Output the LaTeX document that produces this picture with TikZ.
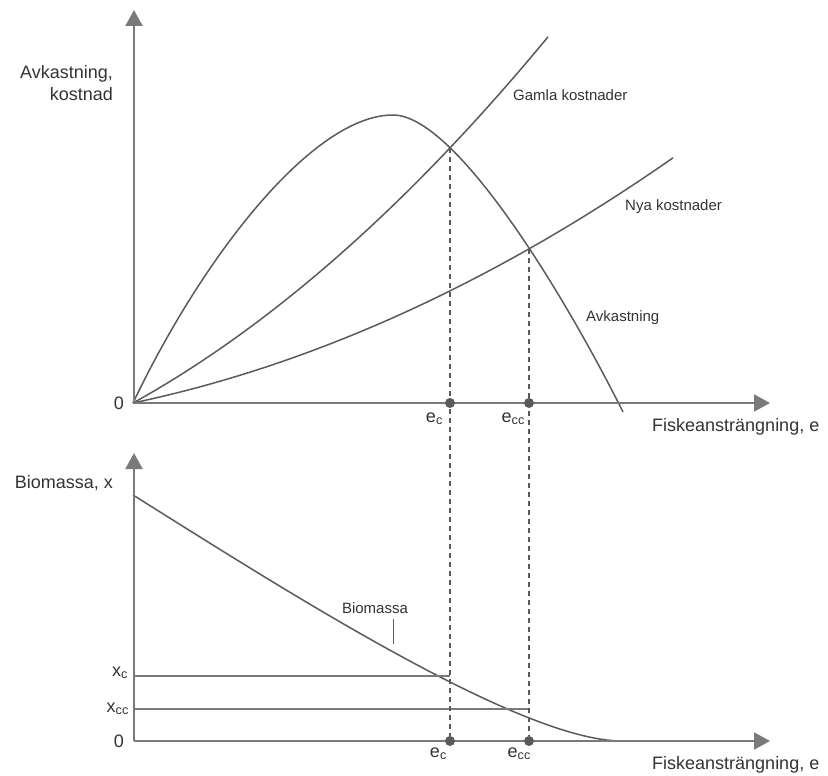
\documentclass[tikz,border=0pt]{standalone}
\usepackage{fontspec}
\setmainfont{Liberation Sans}
\usepackage{xcolor}
\usepackage{tikz}
\usetikzlibrary{
    positioning,
    arrows.meta,
    intersections,
    calc,
}
\definecolor{axisgray}{HTML}{7A7A7A}
\definecolor{curvegray}{HTML}{5A5A5A}
\definecolor{textgray}{HTML}{333333}
\tikzset{
    % Line styles
    axis/.style={draw=axisgray, line width=2pt, -{Triangle[length=16pt, width=17pt]}},
    curve/.style={draw=curvegray, line width=1.5pt},
    guide/.style={draw=curvegray, line width=1.5pt, dash pattern=on 5pt off 4pt},
    level/.style={draw=axisgray, line width=1.3pt},
    dot/.style={circle, fill=curvegray, minimum size=10pt, inner sep=0pt},
    % Text styles
    axis label/.style={font=\fontsize{18}{22}\selectfont, text=textgray, inner sep=0pt},
    curve label/.style={font=\fontsize{15}{18}\selectfont, text=textgray, inner sep=0pt},
}

\begin{document}
\begin{tikzpicture}[x=1pt, y=-1pt]
    \useasboundingbox (0,0) rectangle (828,776);

    % Upper panel: revenue and costs
    \coordinate (O1) at (134,403);
    \coordinate (Y1) at (134,10);
    \coordinate (X1) at (770,403);
    \coordinate (peak) at (393,115);
    \draw[curve] (133,403) .. controls (203,256) and (313,115) .. (peak);
    \draw[curve, name path=fall] (peak) .. controls (455,115) and (563,292) .. (623,412);
    \draw[curve, name path=old] plot[domain=0:415, samples=60, variable=\u]
        ({133+\u}, {403-0.554*\u-7.91*(\u/100)^2});
    \draw[curve, name path=new] plot[domain=0:540, samples=60, variable=\u]
        ({133+\u}, {403-0.211*\u-4.5*(\u/100)^2});
    \path[name intersections={of=fall and old, by=gx}];
    \path[name intersections={of=fall and new, by=nx}];
    % snap the crossings to whole pixels
    \path let \p1=(gx) in coordinate (gc) at ({round(\x1)}, \y1);
    \path let \p1=(nx) in coordinate (nc) at ({round(\x1)}, \y1);
    \draw[axis] (O1) -- (Y1);
    \draw[axis] (O1) -- (X1);

    % Lower panel: biomass
    \coordinate (O2) at (134,741);
    \coordinate (Y2) at (134,453);
    \coordinate (X2) at (770,741);
    \draw[curve] (133,495) .. controls (283,589) and (520,741) .. (622,741);
    \coordinate (xc) at (134,676);
    \coordinate (xcc) at (134,709);
    \draw[level] (xc) -- (xc -| gc);
    \draw[level] (xcc) -- (xcc -| nc);
    \draw[axis] (O2) -- (Y2);
    \draw[axis] (O2) -- (X2);

    % Effort points
    \node[dot] (ec1) at (gc |- O1) {};
    \node[dot] (ecc1) at (nc |- O1) {};
    \node[dot] (ec2) at (gc |- O2) {};
    \node[dot] (ecc2) at (nc |- O2) {};

    % Dashed guides from the crossings
    \draw[guide] (gc) -- (ec2);
    \draw[guide] (nc) -- (ecc2);

    % Axis labels
    \node[axis label, align=right, anchor=east] (ylab1) at (113,83) {Avkastning,\\kostnad};
    \node[axis label, anchor=east] (zero1) at (124,403) {0};
    \node[axis label, anchor=west] (xlab1) at (652,427) {Fiskeansträngning, e};
    \node[axis label, anchor=east] (ylab2) at (113,483) {Biomassa, x};
    \node[axis label, anchor=east] (zero2) at (124,741) {0};
    \node[axis label, anchor=west] (xlab2) at (652,765) {Fiskeansträngning, e};
    \node[axis label, anchor=base east] (xclab) at (128,676) {x\textsubscript{c}};
    \node[axis label, anchor=base east] (xcclab) at (129,712) {x\textsubscript{cc}};

    % Effort labels
    \node[axis label, anchor=base east] (eclab1) at ([shift={(-7,19)}]ec1) {e\textsubscript{c}};
    \node[axis label, anchor=base east] (ecclab1) at ([shift={(-4,19)}]ecc1) {e\textsubscript{cc}};
    \node[axis label, anchor=base east] (eclab2) at ([shift={(-3,16)}]ec2) {e\textsubscript{c}};
    \node[axis label, anchor=base east] (ecclab2) at ([shift={(2,16)}]ecc2) {e\textsubscript{cc}};

    % Curve labels
    \node[curve label, anchor=west] (old) at (513,95) {Gamla kostnader};
    \node[curve label, anchor=west] (new) at (625,207) {Nya kostnader};
    \node[curve label, anchor=west] (rev) at (586,318) {Avkastning};
    \node[curve label] (bio) at (375,608) {Biomassa};
    \coordinate (bt1) at (393,619);
    \coordinate (bt2) at (393,644);
    \draw[curvegray, line width=1pt] (bt1) -- (bt2);
\end{tikzpicture}
\end{document}
